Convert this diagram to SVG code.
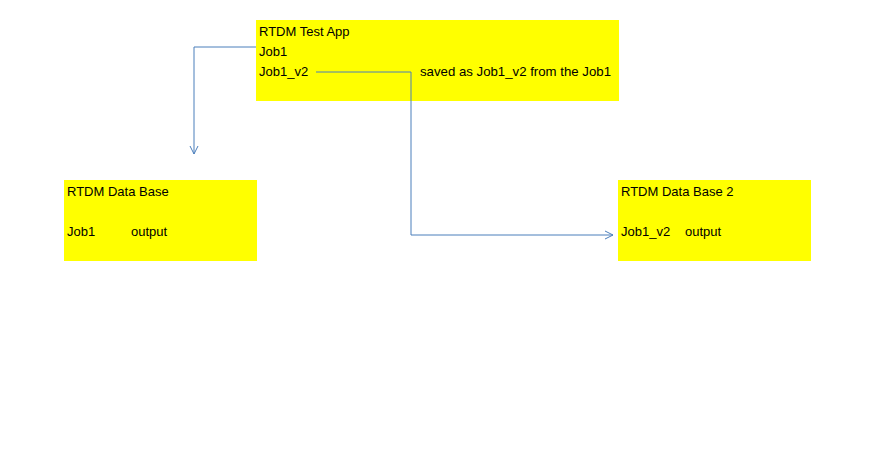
<svg xmlns="http://www.w3.org/2000/svg" width="875" height="460" viewBox="0 0 875 460">
<defs>
<style>
.box{fill:#ffff00;stroke:none}
.t{font-family:"Liberation Sans","Open Sans",Arial,sans-serif;font-size:13px;fill:#000}
.c{fill:none;stroke:#4a7ebb;stroke-width:1}
</style>
<marker id="arr" viewBox="0 0 10 10" refX="9" refY="5" markerWidth="10" markerHeight="10" markerUnits="userSpaceOnUse" orient="auto">
<path d="M1,1 L9,5 L1,9" fill="none" stroke="#4a7ebb" stroke-width="1"/>
</marker>
</defs>
<rect width="875" height="460" fill="#fff"/>
<g id="app">
<rect class="box" x="256" y="20" width="363" height="81"/>
<text class="t" x="259" y="36">RTDM Test App</text>
<text class="t" x="259" y="56">Job1</text>
<text class="t" x="259" y="76">Job1_v2</text>
<text class="t" x="420" y="76" textLength="191" lengthAdjust="spacingAndGlyphs">saved as Job1_v2 from the Job1</text>
</g>
<g id="db1">
<rect class="box" x="64" y="180" width="193" height="81"/>
<text class="t" x="67" y="196">RTDM Data Base</text>
<text class="t" x="67" y="236">Job1</text>
<text class="t" x="131" y="236">output</text>
</g>
<g id="db2">
<rect class="box" x="618" y="180" width="193" height="81"/>
<text class="t" x="621" y="196">RTDM Data Base 2</text>
<text class="t" x="621" y="236">Job1_v2</text>
<text class="t" x="685" y="236">output</text>
</g>
<g id="connectors">
<path class="c" d="M256,47 H194 V154" marker-end="url(#arr)"/>
<path class="c" d="M316,72 H411 V235 H613" marker-end="url(#arr)"/>
</g>
</svg>
